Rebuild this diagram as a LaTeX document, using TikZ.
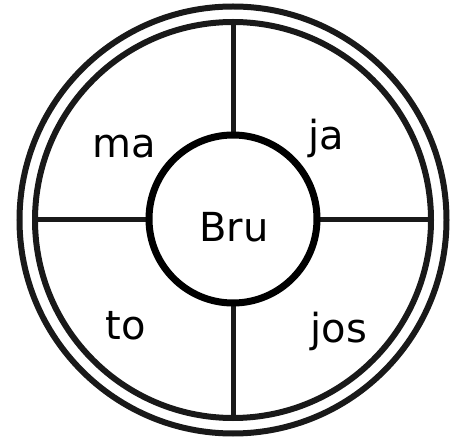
\documentclass[tikz,border=0pt]{standalone}
\usepackage{fontspec}
\setmainfont{DejaVu Sans}
\begin{document}
\begin{tikzpicture}[x=1pt,y=-1pt,
  ring/.style={draw=black!90,line width=6pt},
  spoke/.style={draw=black!90,line width=5pt},
  hub/.style={circle,draw=black,line width=7pt,minimum size=168pt,inner sep=0pt,fill=white},
  word/.style={anchor=base,font=\fontsize{40}{40}\selectfont}]
\useasboundingbox (0,0) rectangle (458,438);
\coordinate (c) at (233,220);
\draw[ring] (c) circle[radius=213.5];
\draw[ring] (c) circle[radius=198];
\coordinate (t) at (233,22);
\coordinate (b) at (233,418);
\coordinate (l) at (35,220);
\coordinate (r) at (431,220);
\draw[spoke] (t) -- (b);
\draw[spoke] (l) -- (r);
\node[hub] (hub) at (233,219) {};
\node[word] (bru) at (234,242) {Bru};
\node[word] (ma) at (124,158) {ma};
\node[word] (ja) at (326,150) {ja};
\node[word] (to) at (126,340) {to};
\node[word] (jos) at (339,343) {jos};
\end{tikzpicture}
\end{document}
